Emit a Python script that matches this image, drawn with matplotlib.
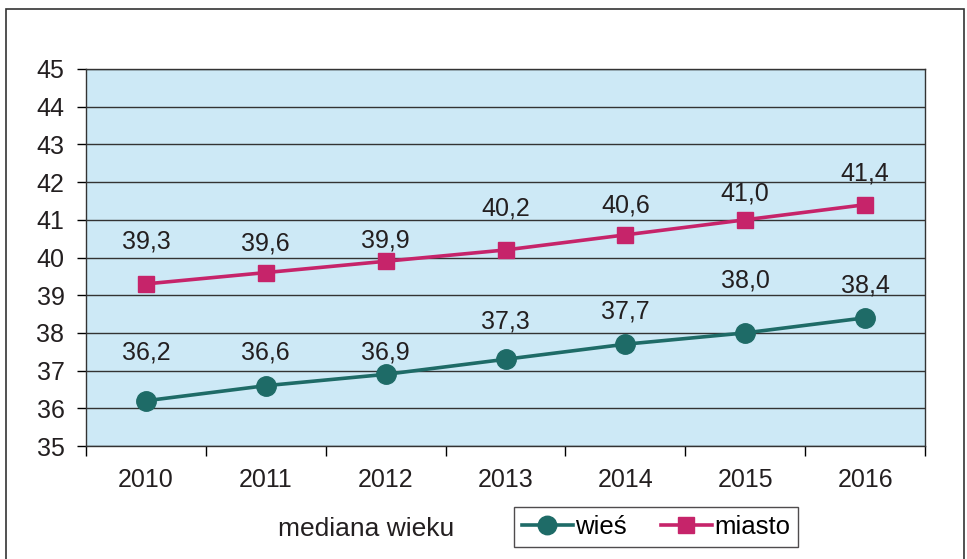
import matplotlib.pyplot as plt
from matplotlib.patches import Rectangle

plt.rcParams['font.family'] = ['Liberation Sans', 'DejaVu Sans']

# Dane: mediana wieku
lata = ['2010', '2011', '2012', '2013', '2014', '2015', '2016']
wies = [36.2, 36.6, 36.9, 37.3, 37.7, 38.0, 38.4]
miasto = [39.3, 39.6, 39.9, 40.2, 40.6, 41.0, 41.4]

# przesuniecie etykiet nad punktem (w jednostkach osi), jak w oryginale
dy_wies = [1.27, 0.87, 0.57, 1.0, 0.86, 1.4, 0.87]
dy_miasto = [1.12, 0.78, 0.54, 1.10, 0.79, 0.70, 0.83]

kolor_wies = '#1e6b67'
kolor_miasto = '#c6246a'
kolor_tekst = '#231f20'

fig = plt.figure(figsize=(9.67, 5.59), dpi=100)
ax = fig.add_axes([86 / 967, 1 - 446 / 559, 839 / 967, 377 / 559])

# ramka wykresu
fig.patches.append(Rectangle((6 / 967, -0.01), 958 / 967, 1 - 9 / 559 + 0.01,
                             transform=fig.transFigure, fill=False,
                             edgecolor='#333333', linewidth=1.2))

ax.set_facecolor('#cde9f6')
x = list(range(len(lata)))

ax.plot(x, wies, '-o', color=kolor_wies, linewidth=2.6, markersize=14, label='wieś', zorder=3)
ax.plot(x, miasto, '-s', color=kolor_miasto, linewidth=2.6, markersize=11.5, label='miasto', zorder=3)

for xi, v, d in zip(x, wies, dy_wies):
    ax.text(xi, v + d, f'{v:.1f}'.replace('.', ','), ha='center', va='center',
            fontsize=18, color=kolor_tekst)
for xi, v, d in zip(x, miasto, dy_miasto):
    ax.text(xi, v + d, f'{v:.1f}'.replace('.', ','), ha='center', va='center',
            fontsize=18, color=kolor_tekst)

ax.set_xlim(-0.5, len(lata) - 0.5)
ax.set_ylim(35, 45)
ax.set_yticks(range(35, 46))
ax.yaxis.grid(True, color='#333333', linewidth=1.0)
ax.set_axisbelow(True)
ax.set_xticks(x)
ax.set_xticklabels(lata)
ax.set_xticks([i - 0.5 for i in range(len(lata) + 1)], minor=True)
ax.tick_params(axis='x', which='major', length=0, pad=16, labelsize=18, labelcolor=kolor_tekst)
ax.tick_params(axis='x', which='minor', length=7, width=1.0, direction='out')
ax.tick_params(axis='y', length=6.5, width=1.0, direction='out', pad=9, labelsize=18, labelcolor=kolor_tekst)
for s in ax.spines.values():
    s.set_color('#333333')
    s.set_linewidth(1.0)

fig.text(366 / 967, 1 - 529 / 559, 'mediana wieku', ha='center', va='center', fontsize=19, color=kolor_tekst)

leg = ax.legend(loc='center', bbox_to_anchor=(656 / 967, 1 - 527 / 559), bbox_transform=fig.transFigure,
                ncol=2, fontsize=18.5, frameon=True, fancybox=False, edgecolor=kolor_tekst,
                handlelength=2.0, handletextpad=0.1, columnspacing=1.3, borderpad=0.3,
                markerscale=0.95)
leg.get_frame().set_linewidth(1.0)

plt.savefig('out.png', dpi=100)
